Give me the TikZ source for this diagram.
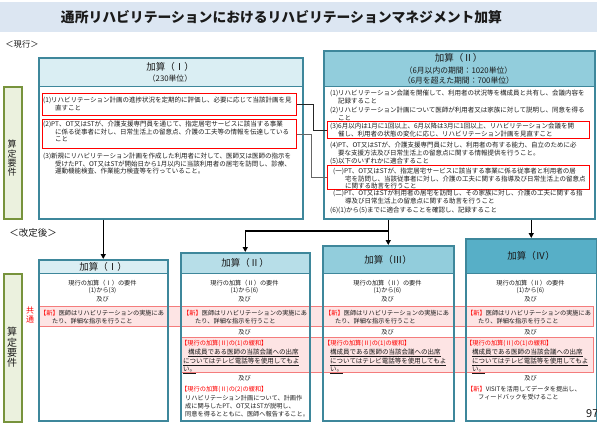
\documentclass[tikz,border=0pt]{standalone}
\usepackage{fontspec}
\setmainfont{Noto Sans CJK JP}
\usetikzlibrary{arrows.meta}
\definecolor{titlebg}{HTML}{DCE6F2}
\definecolor{frameteal}{HTML}{3E879B}
\definecolor{hdone}{HTML}{DAEEF3}
\definecolor{hdtwo}{HTML}{B7DEE8}
\definecolor{hdthree}{HTML}{92CDDC}
\definecolor{hdfour}{HTML}{57AFC7}
\definecolor{barfill}{HTML}{EBF1DE}
\definecolor{barline}{HTML}{77933C}
\definecolor{bandpink}{HTML}{FDE4E4}
\definecolor{bandline}{HTML}{F47C7C}
\definecolor{ink}{HTML}{1A1A1A}

\begin{document}
\begin{tikzpicture}[
    x=1pt, y=-1pt,
    frame/.style={draw=frameteal, line width=1.5pt, inner sep=0pt, anchor=north west},
    head/.style={draw=frameteal, line width=1.2pt, inner sep=0pt, anchor=north west},
    headtxt/.style={inner sep=0pt, text=ink, font=\fontsize{9.5}{11}\selectfont},
    subtxt/.style={inner sep=0pt, text=ink, font=\fontsize{7.8}{9}\selectfont},
    bar/.style={draw=barline, fill=barfill, line width=1.5pt, inner sep=0pt, anchor=north west},
    bartxt/.style={inner sep=0pt, align=center, text=ink},
    redbox/.style={draw=red, line width=1.1pt, inner sep=0pt, anchor=north west},
    band/.style={draw=bandline, fill=bandpink, line width=0.8pt, inner sep=0pt, anchor=north west},
    item/.style={anchor=north west, yshift=3.2pt, inner sep=0pt, align=left, text=ink, font=\fontsize{6.5}{7.6}\selectfont},
    note/.style={anchor=north west, yshift=3.1pt, inner sep=0pt, align=left, text=ink, font=\fontsize{6.2}{8}\selectfont},
    under/.style={anchor=north west, yshift=3.2pt, inner sep=0pt, align=left, text=ink, font=\fontsize{6.5}{7.7}\selectfont},
    mid/.style={inner sep=0pt, text=ink, font=\fontsize{6.2}{7.6}\selectfont},
    link/.style={line width=1pt},
    down/.style={-{Triangle[length=5pt,width=5pt]}, line width=1.3pt}
]
\useasboundingbox (0,0) rectangle (597,423);

% title
\node[fill=titlebg, inner sep=0pt, minimum width=597pt, minimum height=30pt, anchor=north west] (titlebar) at (0,2) {};
\node[inner sep=0pt, text=ink, font=\fontsize{13.8}{15}\selectfont\bfseries] (title) at (281.5,17) {通所リハビリテーションにおけるリハビリテーションマネジメント加算};

% current scheme
\node[inner sep=0pt, text=ink, font=\fontsize{8.3}{9}\selectfont] (nowlbl) at (22,44) {＜現行＞};
\node[bar, minimum width=18pt, minimum height=132pt] (barOld) at (3,86) {};
\node[bartxt, font=\fontsize{9}{9.3}\selectfont] (barOldTxt) at (12,158.5) {算\\定\\要\\件};

% kasan I (current)
\node[head, fill=hdone, minimum width=264pt, minimum height=29pt] (hdOldA) at (38,57) {};
\node[headtxt] (oldAname) at (170,67) {加算（Ⅰ）};
\node[subtxt] (oldAunit) at (170,79) {（230単位）};
\node[frame, minimum width=264pt, minimum height=161pt] (oldA) at (38,57) {};
\node[redbox, minimum width=254pt, minimum height=22pt] (oldA1) at (42,93) {};
\node[redbox, minimum width=254pt, minimum height=29pt] (oldA2) at (42,119) {};
\node[item] (a1) at (43,100) {(1)リハビリテーション計画の進捗状況を定期的に評価し、必要に応じて当該計画を見\\\hspace*{12pt}直すこと};
\node[item] (a2) at (43,124) {(2)PT、OT又はSTが、介護支援専門員を通じて、指定居宅サービスに該当する事業\\\hspace*{12pt}に係る従事者に対し、日常生活上の留意点、介護の工夫等の情報を伝達している\\\hspace*{12pt}こと};
\node[item] (a3) at (43,156) {(3)新規にリハビリテーション計画を作成した利用者に対して、医師又は医師の指示を\\\hspace*{12pt}受けたPT、OT又はSTが開始日から1月以内に当該利用者の居宅を訪問し、診療、\\\hspace*{12pt}運動機能検査、作業能力検査等を行っていること。};

% kasan II (current)
\node[head, fill=hdthree, minimum width=271pt, minimum height=36pt] (hdOldB) at (323,50) {};
\node[headtxt] (oldBname) at (458.5,57.5) {加算（Ⅱ）};
\node[subtxt] (oldBunit1) at (458.5,71) {（6月以内の期間：1020単位）};
\node[subtxt] (oldBunit2) at (458.5,81) {（6月を超えた期間：700単位）};
\node[frame, minimum width=271pt, minimum height=168pt] (oldB) at (323,50) {};
\node[redbox, minimum width=262pt, minimum height=17pt] (oldB3) at (327,121) {};
\node[redbox, minimum width=262pt, minimum height=24pt] (oldB5) at (327,165) {};
\node[item] (b1) at (330,93) {(1)リハビリテーション会議を開催して、利用者の状況等を構成員と共有し、会議内容を\\\hspace*{8pt}記録すること};
\node[item] (b2) at (330,110) {(2)リハビリテーション計画について医師が利用者又は家族に対して説明し、同意を得る\\\hspace*{8pt}こと};
\node[item] (b3) at (330,126) {(3)6月以内は1月に1回以上、6月以降は3月に1回以上、リハビリテーション会議を開\\\hspace*{8pt}催し、利用者の状態の変化に応じ、リハビリテーション計画を見直すこと};
\node[item] (b4) at (330,145) {(4)PT、OT又はSTが、介護支援専門員に対し、利用者の有する能力、自立のために必\\\hspace*{8pt}要な支援方法及び日常生活上の留意点に関する情報提供を行うこと。};
\node[item] (b5) at (330,161) {(5)以下のいずれかに適合すること};
\node[item] (b5a) at (333,171) {(一)PT、OT又はSTが、指定居宅サービスに該当する事業に係る従事者と利用者の居\\\hspace*{12pt}宅を訪問し、当該従事者に対し、介護の工夫に関する指導及び日常生活上の留意点\\\hspace*{12pt}に関する助言を行うこと};
\node[item] (b5b) at (333,193) {(二)PT、OT又はSTが利用者の居宅を訪問し、その家族に対し、介護の工夫に関する指\\\hspace*{12pt}導及び日常生活上の留意点に関する助言を行うこと};
\node[item] (b6) at (330,210) {(6)(1)から(5)までに適合することを確認し、記録すること};

% links between the two current boxes
\draw[link, black!85] (oldA1.east) -- ++(16,0) |- (oldB3.west);
\draw[link, black!60] (oldA2.east) -- ++(14,0) |- (oldB5.west);

% revised scheme
\node[inner sep=0pt, text=ink, font=\fontsize{9.5}{11}\selectfont] (newlbl) at (33,233) {＜改定後＞};
\node[bar, minimum width=18pt, minimum height=148pt] (barNew) at (3,273) {};
\node[bartxt, font=\fontsize{10}{10.4}\selectfont] (barNewTxt) at (12,347.5) {算\\定\\要\\件};
\node[bartxt, text=red, font=\fontsize{8}{9}\selectfont] (common) at (30,314.5) {共\\通};

\node[head, fill=hdone, minimum width=129pt, minimum height=14pt] (hdA) at (38,259) {};
\node[head, fill=hdtwo, minimum width=129pt, minimum height=21pt] (hdB) at (180,252) {};
\node[head, fill=hdthree, minimum width=131pt, minimum height=28pt] (hdC) at (322,245) {};
\node[head, fill=hdfour, minimum width=131pt, minimum height=35pt] (hdD) at (465,238) {};
\node[headtxt] (nameA) at (hdA.center) {加算（Ⅰ）};
\node[headtxt] (nameB) at (hdB.center) {加算（Ⅱ）};
\node[headtxt] (nameC) at (hdC.center) {加算（Ⅲ）};
\node[headtxt] (nameD) at (hdD.center) {加算（Ⅳ）};

% shared bands
\node[band, minimum width=555pt, minimum height=20pt] (bandNew) at (38,306) {};
\node[band, minimum width=412pt, minimum height=35pt] (bandEase) at (181,337) {};

\node[frame, minimum width=129pt, minimum height=161pt] (newA) at (38,259) {};
\node[frame, minimum width=129pt, minimum height=168pt] (newB) at (180,252) {};
\node[frame, minimum width=131pt, minimum height=175pt] (newC) at (322,245) {};
\node[frame, minimum width=131pt, minimum height=182pt] (newD) at (465,238) {};

% box I
\node[mid] (a0req) at (102.5,283) {現行の加算（Ⅰ）の要件};
\node[mid] (a0rng) at (102.5,290.5) {(1)から(3)};
\node[mid] (a0and) at (102.5,299) {及び};
\node[note] (a0new) at (40,313) {{\color{red}【新】}医師はリハビリテーションの実施にあ\\\hspace*{12pt}たり、詳細な指示を行うこと};

% box II
\node[mid] (b0req) at (244.5,283) {現行の加算（Ⅱ）の要件};
\node[mid] (b0rng) at (244.5,290.5) {(1)から(6)};
\node[mid] (b0and) at (244.5,299) {及び};
\node[note] (b0new) at (183,313) {{\color{red}【新】}医師はリハビリテーションの実施にあ\\\hspace*{12pt}たり、詳細な指示を行うこと};
\node[mid] (b0and2) at (244.5,332) {及び};
\node[note, text=red] (b0ease1) at (181,343) {【現行の加算(Ⅱ)の(1)の緩和】};
\node[under] (b0meet) at (183,352) {\hspace*{5pt}\underline{構成員である医師の当該会議への出席}\\\underline{についてはテレビ電話等を使用してもよ}\\\underline{い。}};
\node[mid] (b0and3) at (244.5,378) {及び};
\node[note, text=red] (b0ease2) at (181,389) {【現行の加算(Ⅱ)の(2)の緩和】};
\node[note] (b0plan) at (185,398) {リハビリテーション計画について、計画作\\成に関与したPT、OT又はSTが説明し、\\同意を得るとともに、医師へ報告すること。};

% box III
\node[mid] (c0req) at (387.5,283) {現行の加算（Ⅱ）の要件};
\node[mid] (c0rng) at (387.5,290.5) {(1)から(6)};
\node[mid] (c0and) at (387.5,299) {及び};
\node[note] (c0new) at (325,313) {{\color{red}【新】}医師はリハビリテーションの実施にあ\\\hspace*{10pt}たり、詳細な指示を行うこと};
\node[mid] (c0and2) at (387.5,332) {及び};
\node[note, text=red] (c0ease1) at (324,343) {【現行の加算(Ⅱ)の(1)の緩和】};
\node[under] (c0meet) at (330,352) {\underline{構成員である医師の当該会議への出席}\\\underline{についてはテレビ電話等を使用してもよ}\\\underline{い。}};

% box IV
\node[mid] (d0req) at (530.5,283) {現行の加算（Ⅱ）の要件};
\node[mid] (d0rng) at (530.5,290.5) {(1)から(6)};
\node[mid] (d0and) at (530.5,299) {及び};
\node[note] (d0new) at (467,313) {{\color{red}【新】}医師はリハビリテーションの実施にあ\\\hspace*{11pt}たり、詳細な指示を行うこと};
\node[mid] (d0and2) at (530.5,332) {及び};
\node[note, text=red] (d0ease1) at (466,343) {【現行の加算(Ⅱ)の(1)の緩和】};
\node[under] (d0meet) at (472,352) {\underline{構成員である医師の当該会議への出席}\\\underline{についてはテレビ電話等を使用してもよ}\\\underline{い。}};
\node[mid] (d0and3) at (530.5,378) {及び};
\node[note] (d0visit) at (467,389) {{\color{red}【新】}VISITを活用してデータを提出し、\\\hspace*{11pt}フィードバックを受けること};

% arrows from current to revised
\coordinate (fork) at (387.5,231);
\draw[down] (newA.north |- oldA.south) -- (newA.north);
\draw[down] (newC.north |- oldB.south) -- (newC.north);
\draw[down] (fork) -| (newB.north);
\draw[down] (newD.north |- oldB.south) -- (newD.north);

\node[anchor=west, inner sep=0pt, text=ink, font=\fontsize{11}{12}\selectfont] (pageno) at (586,414) {97};
\end{tikzpicture}
\end{document}
